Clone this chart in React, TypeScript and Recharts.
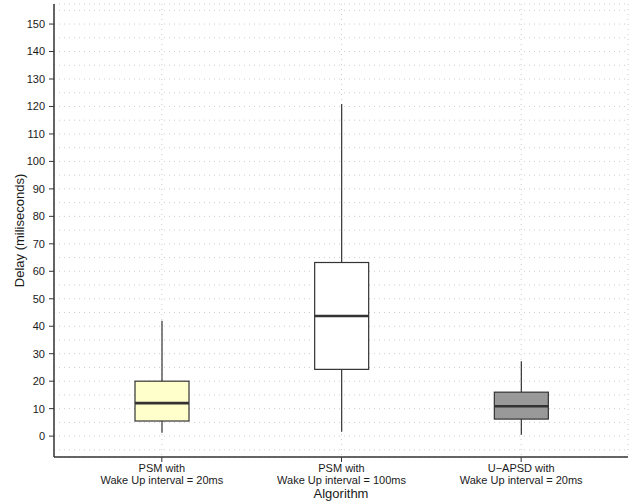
import { ComposedChart, Bar, XAxis, YAxis, CartesianGrid, Label } from 'recharts';

const keys = ['psm20', 'psm100', 'uapsd20'];
const firstLines = ['PSM with', 'PSM with', 'U\u2212APSD with'];
const secondLines = ['Wake Up interval = 20ms', 'Wake Up interval = 100ms', 'Wake Up interval = 20ms'];

const whiskerLow = [1.2, 1.6, 0.5];
const lowerQuartile = [5.5, 24.3, 6.2];
const medians = [12.0, 43.7, 10.9];
const upperQuartile = [20.0, 63.2, 16.0];
const whiskerHigh = [42.0, 120.9, 27.3];
const boxFills = ['#FFFFCC', '#FFFFFF', '#999999'];

const yTicks = [0, 10, 20, 30, 40, 50, 60, 70, 80, 90, 100, 110, 120, 130, 140, 150];
const gridTicks = [-5, 0, 5, 10, 15, 20, 25, 30, 35, 40, 45, 50, 55, 60, 65, 70, 75, 80, 85, 90, 95, 100, 105, 110, 115, 120, 125, 130, 135, 140, 145, 150, 155];
const yDomain = [-7.6, 157.3];

const data = keys.map((k, i) => ({
  key: k,
  range: [whiskerLow[i], whiskerHigh[i]],
  q1: lowerQuartile[i],
  med: medians[i],
  q3: upperQuartile[i],
  fill: boxFills[i],
}));

const FONT = 'Liberation Sans, Arial, Helvetica, sans-serif';
const INK = '#333333';

// draws whiskers + box + median from the bar's whisker span
const BoxShape = (props: any) => {
  const { x, y, width, height, payload } = props;
  const top = Math.min(y, y + height);
  const bottom = Math.max(y, y + height);
  const [lo, hi] = payload.range;
  const py = (v: number) => bottom - ((v - lo) / (hi - lo)) * (bottom - top);
  const cx = x + width / 2;
  return (
    <g>
      <line x1={cx} x2={cx} y1={py(hi)} y2={py(payload.q3)} stroke={INK} strokeWidth={1.2} />
      <line x1={cx} x2={cx} y1={py(payload.q1)} y2={py(lo)} stroke={INK} strokeWidth={1.2} />
      <rect x={x} y={py(payload.q3)} width={width} height={py(payload.q1) - py(payload.q3)} fill={payload.fill} stroke={INK} strokeWidth={1.2} />
      <line x1={x} x2={x + width} y1={py(payload.med)} y2={py(payload.med)} stroke={INK} strokeWidth={2.6} />
    </g>
  );
};

const XTick = (props: any) => {
  const { x, y, payload } = props;
  const i = keys.indexOf(payload.value);
  return (
    <g>
      <text x={x} y={y + 8} textAnchor="middle" fontSize={11} fontFamily={FONT} fill="#1a1a1a">{firstLines[i]}</text>
      <text x={x} y={y + 20} textAnchor="middle" fontSize={11} fontFamily={FONT} fill="#1a1a1a">{secondLines[i]}</text>
    </g>
  );
};

const YTitle = (props: any) => {
  const { viewBox } = props;
  const cy = viewBox.y + viewBox.height / 2;
  return (
    <text x={24} y={cy} transform={`rotate(-90, 24, ${cy})`} textAnchor="middle" fontSize={13} fontFamily={FONT} fill="#1a1a1a">
      Delay (miliseconds)
    </text>
  );
};

const XTitle = (props: any) => {
  const { viewBox } = props;
  return (
    <text x={viewBox.x + viewBox.width / 2} y={498} textAnchor="middle" fontSize={13} fontFamily={FONT} fill="#1a1a1a">
      Algorithm
    </text>
  );
};

export default function App() {
  return (
    <div style={{ position: 'absolute', left: 0, top: 0, background: '#fff' }}>
      <ComposedChart width={632} height={504} data={data} margin={{ top: 4, right: 4, bottom: 17, left: 10 }}>
        <CartesianGrid yAxisId="grid" stroke="#cccccc" strokeDasharray="1 4" vertical={true} horizontal={true} />
        <XAxis
          dataKey="key"
          type="category"
          padding={{ left: 18, right: 17 }}
          axisLine={{ stroke: INK, strokeWidth: 1.5 }}
          tickLine={{ stroke: INK }}
          tickSize={5}
          tick={<XTick />}
          height={30}
          interval={0}
        >
          <Label content={<XTitle />} />
        </XAxis>
        <YAxis
          type="number"
          domain={yDomain}
          allowDataOverflow
          ticks={yTicks}
          interval={0}
          width={44}
          axisLine={{ stroke: INK, strokeWidth: 1.5 }}
          tickLine={{ stroke: INK }}
          tickSize={5}
          tickMargin={4}
          tick={{ fontSize: 11, fontFamily: FONT, fill: '#1a1a1a' }}
        >
          <Label content={<YTitle />} />
        </YAxis>
        <YAxis yAxisId="grid" type="number" domain={yDomain} allowDataOverflow ticks={gridTicks} interval={0} hide />
        <Bar dataKey="range" barSize={54} shape={<BoxShape />} isAnimationActive={false} activeBar={false} />
      </ComposedChart>
    </div>
  );
}
